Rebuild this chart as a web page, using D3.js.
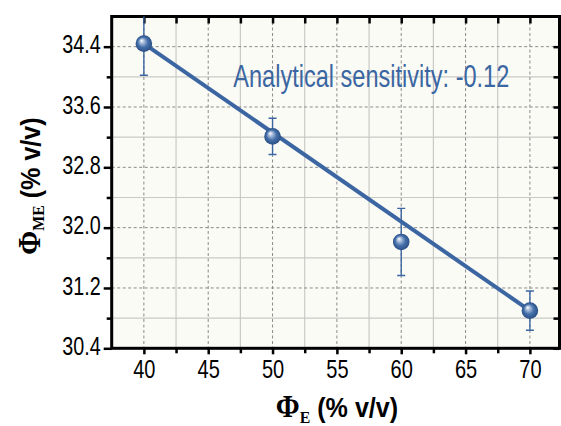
<!DOCTYPE html>
<html>
<head>
<meta charset="utf-8">
<script src="https://cdn.jsdelivr.net/npm/d3@7"></script>
<style>
  body { margin: 0; background: #fff; }
  svg { display: block; }
</style>
</head>
<body>
<div id="chart"></div>
<script>
// data
const phiE = [40, 50, 60, 70];
const phiME = [34.44, 33.21, 31.81, 30.90];
const phiErr = [0.42, 0.24, 0.445, 0.26];
const fitX = [40, 70];
const fitY = [34.44, 30.90];
const xMajor = [40, 45, 50, 55, 60, 65, 70];
const xMinor = [42.5, 47.5, 52.5, 57.5, 62.5, 67.5];
const yMajor = [30.4, 31.2, 32.0, 32.8, 33.6, 34.4];
const yMinor = [30.8, 31.6, 32.4, 33.2, 34.0];
const note = "Analytical sensitivity: -0.12";

const W = 561, H = 426;
const margin = { top: 16.5, right: 1.5, bottom: 77.7, left: 111.7 },
      width = W - margin.left - margin.right,
      height = H - margin.top - margin.bottom;

const blue = "#3b66a2";
const sans = "'Liberation Sans', Arial, sans-serif";
const serif = "'Liberation Serif', 'Times New Roman', serif";

// squeeze a text horizontally (narrow font look)
function squeeze(sel, k) {
    sel.each(function() {
        const w = this.getComputedTextLength();
        d3.select(this).attr("textLength", w * k).attr("lengthAdjust", "spacingAndGlyphs");
    });
}

const svg = d3.select("#chart")
    .append("svg")
    .attr("width", W)
    .attr("height", H);

const defs = svg.append("defs");
const grad = defs.append("radialGradient")
    .attr("id", "ball")
    .attr("cx", "0.5").attr("cy", "0.5").attr("r", "0.5")
    .attr("fx", "0.35").attr("fy", "0.3");
grad.append("stop").attr("offset", "0%").attr("stop-color", "#ffffff");
grad.append("stop").attr("offset", "22%").attr("stop-color", "#b4c6e0");
grad.append("stop").attr("offset", "60%").attr("stop-color", "#4570aa");
grad.append("stop").attr("offset", "100%").attr("stop-color", "#2b4f86");

defs.append("clipPath").attr("id", "plotclip")
    .append("rect").attr("width", width).attr("height", height);

const g = svg.append("g")
    .attr("transform", `translate(${margin.left},${margin.top})`);

// scales
const x = d3.scaleLinear().domain([37.5, 72.3]).range([0, width]);
const y = d3.scaleLinear().domain([30.4, 34.8]).range([height, 0]);

// plot background
g.append("rect")
    .attr("width", width)
    .attr("height", height)
    .attr("fill", "#fbfbf6");

// grid: solid light lines on minor, dashed on major
g.append("g").selectAll("line")
    .data(xMinor).enter().append("line")
    .attr("x1", d => x(d)).attr("x2", d => x(d))
    .attr("y1", 0).attr("y2", height)
    .attr("stroke", "#c9c9c6").attr("stroke-width", 1.2);
g.append("g").selectAll("line")
    .data(yMinor).enter().append("line")
    .attr("x1", 0).attr("x2", width)
    .attr("y1", d => y(d)).attr("y2", d => y(d))
    .attr("stroke", "#c9c9c6").attr("stroke-width", 1.2);
g.append("g").selectAll("line")
    .data(xMajor).enter().append("line")
    .attr("x1", d => x(d)).attr("x2", d => x(d))
    .attr("y1", 0).attr("y2", height)
    .attr("stroke", "#8a8a8a").attr("stroke-width", 1)
    .attr("stroke-dasharray", "3,2.5");
g.append("g").selectAll("line")
    .data(yMajor).enter().append("line")
    .attr("x1", 0).attr("x2", width)
    .attr("y1", d => y(d)).attr("y2", d => y(d))
    .attr("stroke", "#8a8a8a").attr("stroke-width", 1)
    .attr("stroke-dasharray", "3,2.5");

// axes
const styleAxis = sel => {
    sel.select(".domain").remove();
    sel.selectAll(".tick line").attr("stroke", "#000").attr("stroke-width", 2.5);
};

g.append("g")
    .attr("transform", `translate(0,${height})`)
    .call(d3.axisBottom(x).tickValues(xMajor).tickSize(6).tickPadding(6).tickFormat(d3.format("d")))
    .call(styleAxis)
    .call(s => s.selectAll("text").attr("font-family", sans).attr("font-size", "25px").attr("fill", "#000")
        .call(squeeze, 0.8));
g.append("g")
    .attr("transform", `translate(0,${height})`)
    .call(d3.axisBottom(x).tickValues(xMinor).tickSize(5).tickFormat(""))
    .call(styleAxis);

g.append("g")
    .call(d3.axisLeft(y).tickValues(yMajor).tickSize(8).tickPadding(3).tickFormat(d3.format(".1f")))
    .call(styleAxis)
    .call(s => s.selectAll("text").attr("font-family", sans).attr("font-size", "25px").attr("fill", "#000").attr("dy", "0.25em")
        .call(squeeze, 0.79));
g.append("g")
    .call(d3.axisLeft(y).tickValues(yMinor).tickSize(5).tickFormat(""))
    .call(styleAxis);

// inward ticks on top and right
g.append("g")
    .call(d3.axisTop(x).tickValues(xMajor.concat(xMinor)).tickSize(-7).tickFormat(""))
    .call(styleAxis);
g.append("g")
    .attr("transform", `translate(${width},0)`)
    .call(d3.axisRight(y).tickValues(yMajor.concat(yMinor)).tickSize(-6).tickFormat(""))
    .call(styleAxis);

// frame
g.append("rect")
    .attr("width", width)
    .attr("height", height)
    .attr("fill", "none")
    .attr("stroke", "#000")
    .attr("stroke-width", 3);

const plot = g.append("g").attr("clip-path", "url(#plotclip)");

// fit line
plot.append("line")
    .attr("x1", x(fitX[0])).attr("y1", y(fitY[0]))
    .attr("x2", x(fitX[1])).attr("y2", y(fitY[1]))
    .attr("stroke", blue)
    .attr("stroke-width", 4);

// error bars
const pts = phiE.map((d, i) => ({ x: d, y: phiME[i], e: phiErr[i] }));

const eb = plot.selectAll(".err").data(pts).enter().append("g").attr("class", "err")
    .attr("stroke", blue).attr("stroke-width", 1.4);
eb.append("line")
    .attr("x1", d => x(d.x)).attr("x2", d => x(d.x))
    .attr("y1", d => y(d.y - d.e)).attr("y2", d => y(d.y + d.e));
eb.append("line")
    .attr("x1", d => x(d.x) - 4).attr("x2", d => x(d.x) + 4)
    .attr("y1", d => y(d.y - d.e)).attr("y2", d => y(d.y - d.e));
eb.append("line")
    .attr("x1", d => x(d.x) - 4).attr("x2", d => x(d.x) + 4)
    .attr("y1", d => y(d.y + d.e)).attr("y2", d => y(d.y + d.e));

// markers
plot.selectAll(".pt").data(pts).enter().append("circle")
    .attr("class", "pt")
    .attr("cx", d => x(d.x))
    .attr("cy", d => y(d.y))
    .attr("r", 8.3)
    .attr("fill", "url(#ball)");

// annotation
g.append("text")
    .attr("x", 233.3 - margin.left)
    .attr("y", 87.3 - margin.top)
    .attr("font-family", sans)
    .attr("font-size", "32px")
    .attr("fill", blue)
    .attr("textLength", 276)
    .attr("lengthAdjust", "spacingAndGlyphs")
    .text(note);

// axis titles
const xt = svg.append("text")
    .attr("x", 337)
    .attr("y", 417)
    .attr("text-anchor", "middle")
    .attr("font-weight", "bold")
    .attr("fill", "#000");
xt.append("tspan").attr("font-family", serif).attr("font-size", "31px").text("Φ");
xt.append("tspan").attr("font-family", serif).attr("font-size", "17px").attr("dy", "6").text("E");
xt.append("tspan").attr("font-family", sans).attr("font-size", "27px").attr("dy", "-6").text(" (% v/v)");
squeeze(xt, 0.93);

const yt = svg.append("text")
    .attr("transform", "translate(40,186) rotate(-90)")
    .attr("text-anchor", "middle")
    .attr("font-weight", "bold")
    .attr("fill", "#000");
yt.append("tspan").attr("font-family", serif).attr("font-size", "31px").text("Φ");
yt.append("tspan").attr("font-family", serif).attr("font-size", "17px").attr("dy", "4").text("ME");
yt.append("tspan").attr("font-family", sans).attr("font-size", "27px").attr("dy", "-4").text(" (% v/v)");
squeeze(yt, 0.93);
</script>
</body>
</html>
